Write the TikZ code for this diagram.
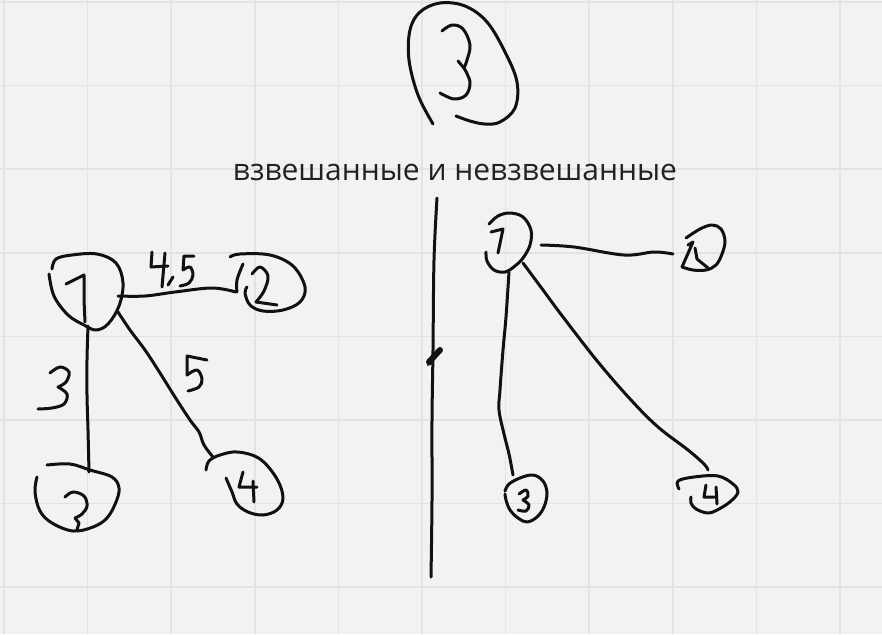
\documentclass[tikz,border=0pt]{standalone}
\usepackage{fontspec}
\setmainfont{Open Sans}
\definecolor{bgc}{HTML}{F2F2F2}
\definecolor{gridc}{HTML}{E3E3E3}
\definecolor{inkc}{HTML}{111111}
\definecolor{textc}{HTML}{222222}
\tikzset{
  ink/.style={draw=inkc, line width=3pt, line cap=round, line join=round},
  gridline/.style={draw=gridc, line width=1.6pt},
  sm/.style={smooth, tension=0.6}
}
\begin{document}
\begin{tikzpicture}[x=1pt,y=-1pt]
\useasboundingbox (0,0) rectangle (882,634);
\fill[bgc] (0,0) rectangle (882,634);
% grid
\foreach \k in {0,...,10} {\draw[gridline] ({4+83.6*\k},0) -- ({4+83.6*\k},634);}
\foreach \k in {0,...,7} {\draw[gridline] (0,{2+83.6*\k}) -- (882,{2+83.6*\k});}

% title "3" in a loop
\draw[ink] plot[sm] coordinates {(433,124) (418,95) (409,60) (410,30) (420,12) (440,3) (465,6) (487,22) (505,52) (517,82) (515,108) (500,122) (485,124) (470,121) (456,116)};
\draw[ink] plot[sm] coordinates {(442,31) (452,25) (463,29) (470,45) (467,60) (464,68)};
\draw[ink] (458,61) -- (464,68);
\draw[ink] plot[sm] coordinates {(464,68) (470,82) (466,95) (454,99) (440,93)};

% heading
\node[anchor=base, text=textc, font=\fontsize{30}{36}\selectfont, inner sep=0pt] (title) at (455,180) {взвешанные и невзвешанные};

% divider
\draw[ink] plot[sm] coordinates {(437,198) (434,260) (433,350) (432,420) (432,500) (431,577)};
\draw[draw=inkc, line width=6pt, line cap=round] (429,362) -- (440,350);
\fill[inkc] (427,366) -- (430,358) -- (433,364) -- cycle;

% ===== left weighted graph =====
\coordinate (L1) at (86,292);
\coordinate (L2) at (270,283);
\coordinate (L3) at (78,498);
\coordinate (L4) at (255,484);
% node 1
\draw[ink] plot[sm] coordinates {(52,269) (56,259) (72,255) (97,254) (116,263) (123,283) (119,306) (108,324) (96,330) (84,325) (68,315) (54,296) (49,274)};
\draw[ink] (66,284) -- (84,275) -- (84,300) -- (85,322);
% node 2
\draw[ink] plot[sm] coordinates {(230,257) (240,254) (270,255) (293,266) (305,287) (300,302) (283,310) (263,311) (250,305) (245,293) (247,287)};
\draw[ink] plot[sm] coordinates {(252,274) (260,267) (268,276) (264,291) (256,302)};
\draw[ink] (256,302) -- (277,305);
% node 3
\draw[ink] plot[sm] coordinates {(47,465) (70,464) (90,470) (112,477) (119,488) (116,502) (107,518) (93,527) (73,531) (52,523) (40,511) (35,492) (37,477)};
\draw[ink] plot[sm] coordinates {(65,497) (73,492) (84,496) (87,506) (82,514) (75,518)};
\draw[ink] (75,518) -- (79,523) -- (77,530);
% node 4
\draw[ink] plot[sm] coordinates {(206,470) (209,461) (220,455) (238,452) (260,459) (277,479) (283,498) (277,510) (263,515) (248,512) (237,504) (232,492) (226,478)};
\draw[ink] (243,472) -- (239,487) -- (257,487);
\draw[ink] (253,481) -- (254,502);
% edges
\draw[ink] plot[sm] coordinates {(88,326) (87,360) (87,395) (88,430) (89,472)};
\draw[ink] plot[sm] coordinates {(118,296) (145,296) (175,292) (212,288) (236,292)};
\draw[ink] plot[sm] coordinates {(237,292) (237,280) (243,264)};
\draw[ink] plot[sm] coordinates {(118,312) (130,330) (145,350) (160,373) (175,397) (190,420) (199,432) (204,445) (213,457)};
% weights
\draw[ink] (152,252) -- (151,267) -- (168,266);
\draw[ink] (165,253) -- (162,287);
\draw[ink] (173,277) -- (168,285);
\draw[ink] (194,256) -- (184,256) -- (183,270);
\draw[ink] plot[sm] coordinates {(183,270) (190,267) (193,275) (189,283) (180,286)};
\draw[ink] (207,360) -- (187,356) -- (187,375);
\draw[ink] plot[sm] coordinates {(187,375) (197,370) (202,379) (199,387) (188,391)};
\draw[ink] plot[sm] coordinates {(50,373) (60,367) (69,372) (66,382) (58,387)};
\draw[ink] plot[sm] coordinates {(58,387) (67,394) (64,404) (52,408) (38,409)};

% ===== right unweighted graph =====
\coordinate (R1) at (509,242);
\coordinate (R2) at (704,248);
\coordinate (R3) at (526,498);
\coordinate (R4) at (710,494);
% node 1
\draw[ink] plot[sm] coordinates {(489,224) (498,216) (510,213) (523,217) (531,230) (530,245) (523,258) (515,266) (505,272) (494,270) (487,261) (486,252)};
\draw[ink] (491,232) -- (503,229) -- (498,253);
% node 2
\draw[ink] plot[sm] coordinates {(686,238) (700,229) (712,225) (721,229) (725,241) (722,254) (716,265) (706,270) (693,270) (682,267)};
\draw[ink] (688,245) -- (693,242) -- (682,267);
\draw[ink] (695,248) -- (697,259) -- (708,268);
% node 3
\draw[ink] plot[sm] coordinates {(505,491) (509,484) (520,478) (533,475) (543,481) (547,493) (544,507) (537,517) (527,522) (518,518) (510,510) (506,500) (505,494)};
\draw[ink] plot[sm] coordinates {(519,494) (526,490) (528,496) (523,500)};
\draw[ink] plot[sm] coordinates {(523,500) (529,505) (526,511) (518,510)};
% node 4
\draw[ink] plot[sm] coordinates {(679,489) (678,481) (694,477) (718,476) (733,484) (738,492) (731,501) (719,509) (708,513) (696,509) (691,503) (691,497)};
\draw[ink] (706,485) -- (704,497) -- (714,497);
\draw[ink] (716,487) -- (717,504);
% edges
\draw[ink] plot[sm] coordinates {(541,245) (574,247) (624,255) (654,252) (673,254)};
\draw[ink] plot[sm] coordinates {(509,272) (506,317) (503,350) (500,390) (499,410) (504,434) (509,454) (513,475)};
\draw[ink] plot[sm] coordinates {(523,263) (543,290) (563,317) (598,362) (631,400) (658,427) (688,450) (704,464) (708,470)};
\end{tikzpicture}
\end{document}
